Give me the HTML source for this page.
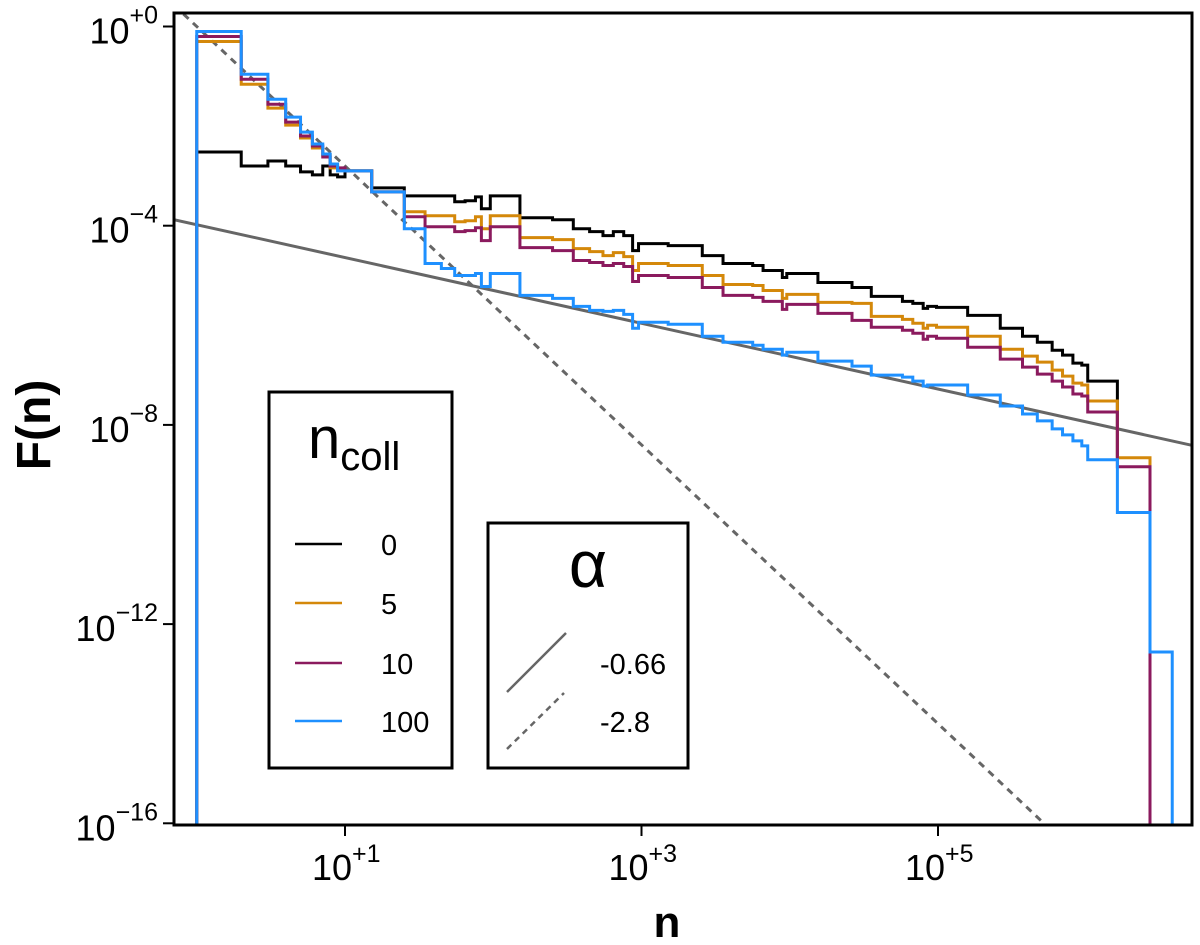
<!DOCTYPE html>
<html><head><meta charset="utf-8">
<style>
html,body{margin:0;padding:0;background:#fff;}
svg{display:block;font-family:"Liberation Sans",Arial,sans-serif;}
</style></head>
<body>
<svg id="chart" width="1200" height="945" viewBox="0 0 1200 945">
<defs><clipPath id="plotclip"><rect x="174" y="14" width="1017" height="810"/></clipPath></defs>
<g id="marks" clip-path="url(#plotclip)"></g>
<rect x="174" y="13" width="1018" height="812" fill="none" stroke="#000" stroke-width="3"/>
<g id="axes"></g>
<text x="667" y="937" font-size="44" font-weight="bold" text-anchor="middle">n</text>
<text transform="translate(50,425) rotate(-90)" font-size="48" font-weight="bold" text-anchor="middle">F(n)</text>

<g>
<rect x="269" y="392" width="183" height="376" fill="#fff" stroke="#000" stroke-width="3"/>
<text x="308" y="458" font-size="58">n<tspan font-size="40" dy="12">coll</tspan></text>
<g><line x1="295" y1="544" x2="342" y2="544" stroke="#000" stroke-width="2.5"/><text x="381" y="555" font-size="29">0</text></g>
<g><line x1="295" y1="603" x2="342" y2="603" stroke="#D4880A" stroke-width="2.5"/><text x="381" y="614" font-size="29">5</text></g>
<g><line x1="295" y1="663" x2="342" y2="663" stroke="#8B1A5E" stroke-width="2.5"/><text x="381" y="674" font-size="29">10</text></g>
<g><line x1="295" y1="721" x2="342" y2="721" stroke="#1E90FF" stroke-width="2.5"/><text x="381" y="732" font-size="29">100</text></g>
</g>

<g>
<rect x="488" y="523" width="200" height="245" fill="#fff" stroke="#000" stroke-width="3"/>
<text x="588" y="587" font-size="66" text-anchor="middle">α</text>
<g><line x1="507" y1="692" x2="566" y2="633" stroke="#666" stroke-width="2.5"/><text x="600" y="674" font-size="29">-0.66</text></g>
<g><line x1="507" y1="749" x2="564" y2="693" stroke="#666" stroke-width="2.5" stroke-dasharray="6,5"/><text x="600" y="732" font-size="29">-2.8</text></g>
</g>
</svg>
<script>
// log10(n) bin edges (shared)
const binEdges = [0,0.30,0.48,0.60,0.70,0.78,0.85,0.90,0.95,1.00,1.18,1.40,1.54,1.65,1.74,1.81,1.88,1.92,1.98,2.18,2.40,2.54,2.65,2.74,2.81,2.88,2.94,2.98,3.18,3.41,3.55,3.75,3.82,3.95,3.98,4.19,4.42,4.55,4.76,4.83,4.90,4.93,4.99,5.20,5.42,5.57,5.67,5.77,5.84,5.91,5.97,6.01,6.21,6.43,6.58];
// log10 F(n) per bin
const series0 = [-2.52,-2.80,-2.70,-2.80,-2.92,-2.98,-2.80,-2.98,-3.02,-2.90,-3.24,-3.40,-3.40,-3.40,-3.52,-3.50,-3.42,-3.66,-3.40,-3.84,-3.88,-4.06,-4.12,-4.20,-4.12,-4.20,-4.50,-4.36,-4.40,-4.60,-4.76,-4.80,-4.90,-5.04,-4.96,-5.14,-5.24,-5.42,-5.52,-5.56,-5.66,-5.62,-5.64,-5.80,-6.06,-6.22,-6.34,-6.50,-6.60,-6.76,-6.80,-7.12];
const series5 = [-0.30,-1.16,-1.64,-1.98,-2.24,-2.44,-2.58,-2.84,-2.86,-2.90,-3.32,-3.72,-3.80,-3.80,-3.92,-3.90,-3.82,-4.06,-3.80,-4.24,-4.28,-4.46,-4.52,-4.60,-4.54,-4.62,-4.90,-4.76,-4.80,-5.00,-5.18,-5.20,-5.30,-5.46,-5.38,-5.54,-5.56,-5.82,-5.88,-5.96,-6.06,-6.00,-6.04,-6.22,-6.48,-6.62,-6.74,-6.90,-7.02,-7.16,-7.20,-7.52,-8.66];
const series10 = [-0.20,-1.06,-1.56,-1.92,-2.20,-2.40,-2.62,-2.80,-2.84,-2.90,-3.32,-3.82,-4.02,-4.02,-4.12,-4.10,-4.04,-4.30,-4.02,-4.44,-4.50,-4.70,-4.74,-4.80,-4.76,-4.82,-5.12,-5.00,-5.04,-5.24,-5.40,-5.44,-5.52,-5.68,-5.58,-5.76,-5.90,-6.04,-6.10,-6.16,-6.28,-6.22,-6.26,-6.44,-6.68,-6.84,-6.98,-7.12,-7.24,-7.38,-7.42,-7.74,-8.84];
const series100 = [-0.10,-0.96,-1.46,-1.82,-2.12,-2.36,-2.56,-2.76,-2.90,-2.90,-3.32,-4.06,-4.76,-4.86,-5.00,-5.00,-4.96,-5.22,-4.96,-5.40,-5.46,-5.62,-5.70,-5.72,-5.70,-5.78,-6.06,-5.94,-5.98,-6.22,-6.34,-6.40,-6.48,-6.60,-6.54,-6.72,-6.82,-7.00,-7.04,-7.12,-7.22,-7.20,-7.20,-7.40,-7.62,-7.78,-7.92,-8.08,-8.20,-8.32,-8.42,-8.70,-9.76,-12.56];
const seriesNames = ["0","5","10","100"];
const seriesColors = ["#000000","#D4880A","#8B1A5E","#1E90FF"];
// reference power laws: log10 F = intercept + slope*log10 n
const refSlopes = [-0.66,-2.8];
const refIntercepts = [-3.98,0.0];
const xTicks = [1,3,5];
const yTicks = [0,-4,-8,-12,-16];

const X0=345, XS=148.25, Y0=26.5, YS=49.8;
const LNMIN=1+(174-X0)/XS, LNMAX=1+(1192-X0)/XS;
function xs(l){return X0+(l-1)*XS;}
function ys(l){return Y0-l*YS;}
const NS="http://www.w3.org/2000/svg";
const marks=document.getElementById('marks');
const axes=document.getElementById('axes');
const BOTTOM=830;

refSlopes.forEach(function(s,i){
  const l=document.createElementNS(NS,'line');
  l.setAttribute('x1',xs(LNMIN));l.setAttribute('y1',ys(refIntercepts[i]+s*LNMIN));
  l.setAttribute('x2',xs(LNMAX));l.setAttribute('y2',ys(refIntercepts[i]+s*LNMAX));
  l.setAttribute('stroke','#666');l.setAttribute('stroke-width','3');
  if(i===1)l.setAttribute('stroke-dasharray','7,6');
  
  
  marks.appendChild(l);
});

[series0,series5,series10,series100].forEach(function(vals,si){
  let d='M'+xs(binEdges[0])+','+BOTTOM;
  for(let i=0;i<vals.length;i++){
    d+=' L'+xs(binEdges[i])+','+ys(vals[i])+' L'+xs(binEdges[i+1])+','+ys(vals[i]);
  }
  if(si!==0) d+=' L'+xs(binEdges[vals.length])+','+BOTTOM;
  else d+=' L'+xs(binEdges[vals.length])+','+ys(series5[vals.length]);
  const p=document.createElementNS(NS,'path');
  p.setAttribute('d',d);p.setAttribute('fill','none');
  p.setAttribute('stroke',seriesColors[si]);p.setAttribute('stroke-width','3');
  p.setAttribute('stroke-linejoin','miter');
  
  
  marks.appendChild(p);
});

xTicks.forEach(function(t){
  const x=xs(t);
  const tk=document.createElementNS(NS,'line');
  tk.setAttribute('x1',x);tk.setAttribute('x2',x);tk.setAttribute('y1',826);tk.setAttribute('y2',836);
  tk.setAttribute('stroke','#000');tk.setAttribute('stroke-width','2');
  
  
  axes.appendChild(tk);
  const tx=document.createElementNS(NS,'text');
  tx.setAttribute('x',x-33);tx.setAttribute('y',880);tx.setAttribute('font-size','36');
  tx.innerHTML='10<tspan font-size="25" dy="-18">+'+t+'</tspan>';
  
  
  axes.appendChild(tx);
});
yTicks.forEach(function(t){
  const y=ys(t);
  const tk=document.createElementNS(NS,'line');
  tk.setAttribute('x1',163);tk.setAttribute('x2',173);tk.setAttribute('y1',y);tk.setAttribute('y2',y);
  tk.setAttribute('stroke','#000');tk.setAttribute('stroke-width','2');
  
  
  axes.appendChild(tk);
  const tx=document.createElementNS(NS,'text');
  tx.setAttribute('x',158);tx.setAttribute('y',y+17);tx.setAttribute('font-size','36');
  tx.setAttribute('text-anchor','end');
  tx.innerHTML='10<tspan font-size="25" dy="-20">'+(t===0?'+0':'\u2212'+(-t))+'</tspan>';
  
  
  axes.appendChild(tx);
});
</script>
</body></html>
